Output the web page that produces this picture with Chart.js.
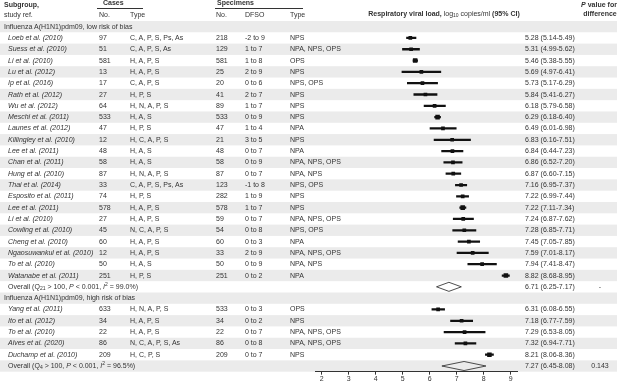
<!DOCTYPE html>
<html>
<head>
<meta charset="utf-8">
<script src="https://cdn.jsdelivr.net/npm/chart.js@4.4.1/dist/chart.umd.min.js"></script>
<style>
  html, body { margin: 0; padding: 0; background: #fff; }
  #wrap { position: relative; width: 617px; height: 381px; overflow: hidden;
          font-family: "Liberation Sans", Arial, sans-serif; font-size: 7px; color: #333; }
  #chart { position: absolute; left: 0; top: 0; }
  .t { position: absolute; white-space: nowrap; line-height: 10px; height: 10px; }
  .b { font-weight: bold; }
  .i { font-style: italic; }
  .c { transform: translateX(-50%); }
  .rule { position: absolute; height: 0; border-top: 1px solid #333; }
  sub { font-size: 5px; vertical-align: -1px; line-height: 0; }
  sup { font-size: 5px; vertical-align: 3px; line-height: 0; }
</style>
</head>
<body>
<div id="wrap"><canvas id="chart" width="617" height="381"></canvas></div>
<script>
// low risk of bias
const lowStudies = ["Loeb et al. (2010)", "Suess et al. (2010)", "Li et al. (2010)", "Lu et al. (2012)",
  "Ip et al. (2016)", "Rath et al. (2012)", "Wu et al. (2012)", "Meschi et al. (2011)", "Launes et al. (2012)",
  "Killingley et al. (2010)", "Lee et al. (2011)", "Chan et al. (2011)", "Hung et al. (2010)", "Thai et al. (2014)",
  "Esposito et al. (2011)", "Lee et al. (2011)", "Li et al. (2010)", "Cowling et al. (2010)", "Cheng et al. (2010)",
  "Ngaosuwankul et al. (2010)", "To et al. (2010)", "Watanabe et al. (2011)"];
const lowCases = [97, 51, 581, 13, 17, 27, 64, 533, 47, 12, 48, 58, 87, 33, 74, 578, 27, 45, 60, 12, 50, 251];
const lowCaseTypes = ["C, A, P, S, Ps, As", "C, A, P, S, As", "H, A, P, S", "H, A, P, S", "C, A, P, S", "H, P, S",
  "H, N, A, P, S", "H, A, S", "H, P, S", "H, C, A, P, S", "H, A, S", "H, A, S", "H, N, A, P, S", "C, A, P, S, Ps, As",
  "H, P, S", "H, A, P, S", "H, A, P, S", "N, C, A, P, S", "H, A, P, S", "H, A, P, S", "H, A, S", "H, P, S"];
const lowSpecimens = [218, 129, 581, 25, 20, 41, 89, 533, 47, 21, 48, 58, 87, 123, 282, 578, 59, 54, 60, 33, 50, 251];
const lowDfso = ["-2 to 9", "1 to 7", "1 to 8", "2 to 9", "0 to 6", "2 to 7", "1 to 7", "0 to 9", "1 to 4", "3 to 5",
  "0 to 7", "0 to 9", "0 to 7", "-1 to 8", "1 to 9", "1 to 7", "0 to 7", "0 to 8", "0 to 3", "2 to 9", "0 to 9", "0 to 2"];
const lowSpecTypes = ["NPS", "NPA, NPS, OPS", "OPS", "NPS", "NPS, OPS", "NPS", "NPS", "NPS", "NPA", "NPS", "NPA",
  "NPA, NPS, OPS", "NPA, NPS", "NPS, OPS", "NPS", "NPS", "NPA, NPS, OPS", "NPS, OPS", "NPA", "NPA, NPS, OPS",
  "NPA, NPS", "NPA"];
const lowEst = [5.28, 5.31, 5.46, 5.69, 5.73, 5.84, 6.18, 6.29, 6.49, 6.83, 6.84, 6.86, 6.87, 7.16, 7.22, 7.22, 7.24, 7.28, 7.45, 7.59, 7.94, 8.82];
const lowLo = [5.14, 4.99, 5.38, 4.97, 5.17, 5.41, 5.79, 6.18, 6.01, 6.16, 6.44, 6.52, 6.60, 6.95, 6.99, 7.11, 6.87, 6.85, 7.05, 7.01, 7.41, 8.68];
const lowHi = [5.49, 5.62, 5.55, 6.41, 6.29, 6.27, 6.58, 6.40, 6.98, 7.51, 7.23, 7.20, 7.15, 7.37, 7.44, 7.34, 7.62, 7.71, 7.85, 8.17, 8.47, 8.95];
const lowOverall = [6.71, 6.25, 7.17];

// high risk of bias
const highStudies = ["Yang et al. (2011)", "Ito et al. (2012)", "To et al. (2010)", "Alves et al. (2020)", "Duchamp et al. (2010)"];
const highCases = [633, 34, 22, 86, 209];
const highCaseTypes = ["H, N, A, P, S", "H, A, P, S", "H, A, P, S", "N, C, A, P, S, As", "H, C, P, S"];
const highSpecimens = [533, 34, 22, 86, 209];
const highDfso = ["0 to 3", "0 to 2", "0 to 7", "0 to 8", "0 to 7"];
const highSpecTypes = ["OPS", "NPS", "NPA, NPS, OPS", "NPA, NPS, OPS", "NPS"];
const highEst = [6.31, 7.18, 7.29, 7.32, 8.21];
const highLo = [6.08, 6.77, 6.53, 6.94, 8.06];
const highHi = [6.55, 7.59, 8.05, 7.71, 8.36];
const highOverall = [7.27, 6.45, 8.08];

const xTicks = [2, 3, 4, 5, 6, 7, 8, 9];
const pValues = ["-", "0.143"];

// row layout
const lowStart = 1;
const lowOverallRow = lowStart + lowStudies.length;
const highHeaderRow = lowOverallRow + 1;
const highStart = highHeaderRow + 1;
const highOverallRow = highStart + highStudies.length;

const ciData = [];
const pointData = [];
lowEst.forEach((v, k) => {
  ciData.push({ x: [lowLo[k], lowHi[k]], y: lowStart + k });
  pointData.push({ x: v, y: lowStart + k, w: lowHi[k] - lowLo[k] });
});
highEst.forEach((v, k) => {
  ciData.push({ x: [highLo[k], highHi[k]], y: highStart + k });
  pointData.push({ x: v, y: highStart + k, w: highHi[k] - highLo[k] });
});

function diamond(o, row) {
  const h = 0.4;
  return [{ x: o[1], y: row }, { x: o[0], y: row - h }, { x: o[2], y: row }, { x: o[0], y: row + h }, { x: o[1], y: row }];
}

const stripes = {
  id: "stripes",
  beforeDraw(chart) {
    const ctx = chart.ctx, y = chart.scales.y;
    ctx.save();
    ctx.fillStyle = "#fff";
    ctx.fillRect(0, 0, chart.width, chart.height);
    ctx.fillStyle = "#ebebeb";
    for (let r = 0; r <= highOverallRow; r += 2) {
      const a = y.getPixelForValue(r - 0.5), b = y.getPixelForValue(r + 0.5);
      ctx.fillRect(0, a, chart.width, b - a);
    }
    ctx.restore();
  }
};

const chart = new Chart(document.getElementById("chart"), {
  type: "scatter",
  data: {
    datasets: [
      {
        type: "scatter", data: pointData, order: 0,
        pointStyle: "rect", backgroundColor: "#111", borderWidth: 0,
        pointRadius: c => (c.raw.w < 0.3 ? 3.2 : 2.6)
      },
      {
        type: "bar", indexAxis: "y", data: ciData, order: 1,
        backgroundColor: "#111", borderWidth: 0, barThickness: 1.6
      },
      {
        type: "scatter", data: diamond(lowOverall, lowOverallRow), order: 0,
        showLine: true, borderColor: "#222", borderWidth: 0.8, pointRadius: 0, fill: false
      },
      {
        type: "scatter", data: diamond(highOverall, highOverallRow), order: 0,
        showLine: true, borderColor: "#222", borderWidth: 0.8, pointRadius: 0, fill: false
      }
    ]
  },
  options: {
    responsive: false,
    animation: false,
    events: [],
    layout: { padding: { left: 315, right: 99.5, top: 3.33, bottom: 0 } },
    plugins: { legend: { display: false }, tooltip: { enabled: false } },
    scales: {
      x: {
        type: "linear", min: 1.75, max: 9.25, offset: false,
        afterBuildTicks: s => { s.ticks = xTicks.map(v => ({ value: v })); },
        afterFit: s => { s.height = 9.33; },
        grid: { drawOnChartArea: false, drawTicks: true, tickLength: 3, color: "#333", offset: false },
        border: { display: true, color: "#333", width: 1 },
        ticks: { font: { family: "Liberation Sans", size: 7 }, color: "#333", padding: 0, maxRotation: 0 }
      },
      y: {
        type: "linear", reverse: true, min: -2, max: 30.5, offset: false, display: false,
        grid: { offset: false }
      }
    }
  },
  plugins: [stripes]
});

// table text, placed with the chart's y scale
const wrap = document.getElementById("wrap");
const yPx = r => chart.scales.y.getPixelForValue(r);

function addText(x, row, html, cls) {
  const d = document.createElement("div");
  d.className = "t " + (cls || "");
  d.style.left = x + "px";
  d.style.top = (yPx(row) - 5) + "px";
  d.innerHTML = html;
  wrap.appendChild(d);
}
function addRule(x1, x2, row) {
  const d = document.createElement("div");
  d.className = "rule";
  d.style.left = x1 + "px";
  d.style.width = (x2 - x1) + "px";
  d.style.top = yPx(row) + "px";
  wrap.appendChild(d);
}
const fmt = (e, l, h) => `${e.toFixed(2)} (${l.toFixed(2)}-${h.toFixed(2)})`;

// header
addText(4, -1.95, "Subgroup,", "b");
addText(4, -1.05, "study ref.");
addText(103, -2.1, "Cases", "b");
addRule(97, 143, -1.62);
addText(99, -1.05, "No.");
addText(130, -1.05, "Type");
addText(217, -2.1, "Specimens", "b");
addRule(215, 303, -1.62);
addText(216, -1.05, "No.");
addText(245, -1.05, "DFSO");
addText(290, -1.05, "Type");
addText(444, -1.15, '<span class="b">Respiratory viral load,</span> log<sub>10</sub> copies/ml <span class="b">(95% CI)</span>', "c");
addText(599, -1.95, '<span class="i">P</span> value for', "b c");
addText(600, -1.1, "difference", "b c");

function addGroup(start, names, cases, caseTypes, specs, dfso, specTypes, est, lo, hi) {
  names.forEach((n, k) => {
    const r = start + k;
    addText(8, r, n, "i");
    addText(99, r, String(cases[k]));
    addText(130, r, caseTypes[k]);
    addText(216, r, String(specs[k]));
    addText(245, r, dfso[k]);
    addText(290, r, specTypes[k]);
    addText(525, r, fmt(est[k], lo[k], hi[k]));
  });
}

addText(4, 0, "Influenza A(H1N1)pdm09, low risk of bias");
addGroup(lowStart, lowStudies, lowCases, lowCaseTypes, lowSpecimens, lowDfso, lowSpecTypes, lowEst, lowLo, lowHi);
addText(8, lowOverallRow, 'Overall (Q<sub>21</sub> &gt; 100, <i>P</i> &lt; 0.001, <i>I</i><sup>2</sup> = 99.0%)');
addText(525, lowOverallRow, fmt(lowOverall[0], lowOverall[1], lowOverall[2]));
addText(600, lowOverallRow, pValues[0], "c");

addText(4, highHeaderRow, "Influenza A(H1N1)pdm09, high risk of bias");
addGroup(highStart, highStudies, highCases, highCaseTypes, highSpecimens, highDfso, highSpecTypes, highEst, highLo, highHi);
addText(8, highOverallRow, 'Overall (Q<sub>4</sub> &gt; 100, <i>P</i> &lt; 0.001, <i>I</i><sup>2</sup> = 96.5%)');
addText(525, highOverallRow, fmt(highOverall[0], highOverall[1], highOverall[2]));
addText(600, highOverallRow, pValues[1], "c");
</script>
</body>
</html>
